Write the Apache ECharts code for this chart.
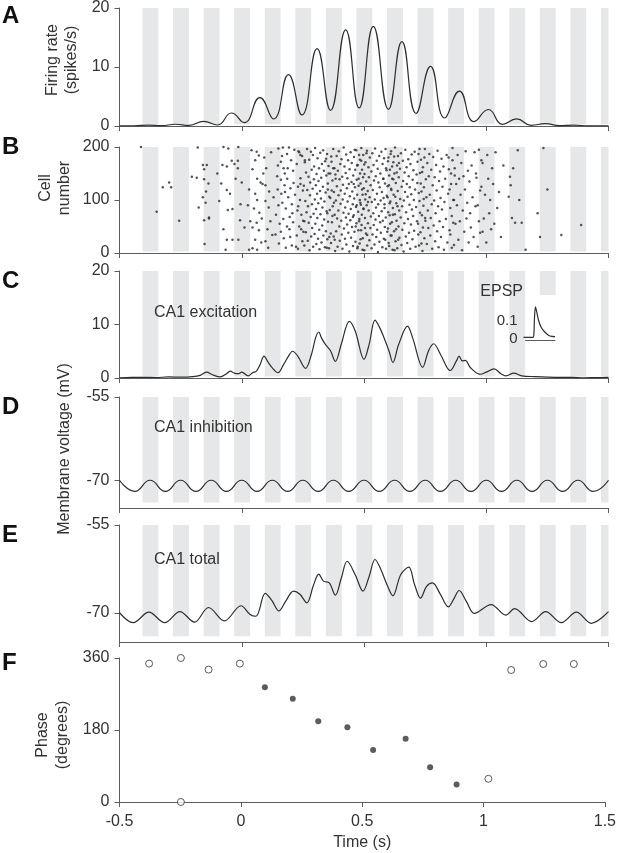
<!DOCTYPE html>
<html><head><meta charset="utf-8">
<script src="https://cdn.jsdelivr.net/npm/echarts@6/dist/echarts.min.js"></script>
<style>html,body{margin:0;padding:0;background:#fff}#c{width:619px;height:853px}</style>
</head><body><div id="c"></div>
<script>
// ---------- data ----------
const stripeStart = [-0.406,-0.281,-0.156,-0.031,0.094,0.219,0.344,0.469,0.594,0.719,0.844,0.969,1.094,1.219,1.344,1.469];
const stripeEnd   = [-0.341,-0.216,-0.091,0.034,0.159,0.284,0.409,0.534,0.659,0.784,0.909,1.034,1.159,1.284,1.409,1.5];

const firingRate = [[-0.5,0.02],[-0.44,0.04],[-0.38,0.15],[-0.33,0.05],[-0.271,0.3],[-0.215,0.1],[-0.156,0.8],[-0.099,0.17],[-0.042,2.2],[0.01,0.57],[0.074,4.8],[0.13,1.19],[0.191,8.7],[0.246,1.87],[0.308,13.1],[0.363,2.66],[0.425,16.3],[0.48,3.06],[0.538,16.9],[0.6,2.83],[0.655,14.3],[0.713,2.15],[0.772,10.1],[0.83,1.36],[0.89,5.9],[0.95,0.74],[1.009,2.8],[1.067,0.28],[1.124,1.2],[1.183,0.12],[1.242,0.4],[1.3,0.05],[1.356,0.15],[1.42,0.02],[1.5,0.02]];

const spikeMsCell = [
[-412,200],[-348,78],[-323,124],[-297,133],[-289,124],[-256,61],
[-204,144],[-184,142],[-180,199],[-176,86],[-159,166],[-143,166],[-154,158],[-154,139],[-146,116],[-159,105],[-148,95],[-154,62],[-134,67],[-152,17],
[-84,131],[-75,200],[-55,197],[-79,166],[-61,163],[-41,174],[-16,174],[-30,168],[-48,112],[-61,119],[-57,81],[-38,83],[-75,45],[-61,25],[-38,25],[-14,25],[-66,6],[-14,200],[-16,160],[0,133],[-7,62],[11,48],[-134,65],[-136,131],[-100,150],[-92,98],[-25,140],[-5,92],
[30,6],[40,194],[61,191],[55,175],[70,184],[44,158],[63,140],[77,133],[85,130],[55,112],[63,100],[50,84],[72,76],[61,57],[44,48],[70,43],[55,25],[80,20],[63,6],[44,9],[92,180],[100,160],[97,128],[112,116],[97,98],[110,86],[117,60],[105,45],[125,34],[97,22],[30,120],[25,90],[35,60],[88,150],[120,190],[130,105],[82,65],[108,10],
[150,197],[165,183],[171,160],[148,165],[160,172],[185,187],[193,199],[202,175],[176,150],[186,140],[160,138],[147,120],[175,128],[199,122],[210,155],[225,168],[232,192],[240,141],[250,118],[218,110],[190,105],[166,95],[150,90],[180,84],[205,92],[228,80],[244,72],[196,68],[170,64],[155,55],[185,50],[210,58],[235,50],[252,40],[225,33],[198,30],[172,28],[152,18],[180,10],[205,14],[230,8],[248,22],[140,72],[138,35],[162,112],[212,132],[238,100],[258,175],[256,60],[188,160],[168,199],[215,195],[145,145],[222,12],[195,45],[177,115],[207,75],[240,185],[160,40],[230,125],
[247,183],[251,61],[254,127],[256,14],[258,171],[260,98],[262,39],[263,152],[265,77],[267,196],[268,119],[270,23],[271,88],[273,144],[274,57],[276,176],[277,5],[279,109],[280,133],[282,68],[283,191],[284,31],[286,157],[287,92],[288,47],[290,121],[291,185],[292,12],[294,74],[295,139],[296,163],[298,36],[299,101],[300,198],[301,55],[303,128],[304,83],[305,17],[306,149],[308,112],[309,66],[310,179],[312,27],[313,94],[314,136],[316,160],[317,44],[318,7],[320,117],[321,189],[322,73],[324,103],[325,142],[326,20],[328,168],[329,52],[330,86],[332,125],[333,194],[334,33],[336,155],[337,63],[338,97],[340,11],[341,173],[343,114],[344,41],[346,146],[347,79],[349,187],[350,26],[352,131],[353,59],[355,164],[357,9],[358,106],[360,81],[362,150],[364,37],[366,182],[368,118],[371,70],[240,130],[243,45],[374,160],[377,95],[235,190],[380,25],[231,88],[384,140],
[362,104],[365,19],[367,172],[369,58],[371,137],[372,88],[374,196],[376,31],[377,115],[379,160],[380,72],[382,4],[383,148],[385,99],[386,41],[388,183],[389,126],[390,65],[392,12],[393,155],[395,80],[396,109],[397,192],[399,50],[400,139],[401,23],[403,168],[404,93],[405,118],[407,61],[408,177],[409,35],[411,144],[412,8],[413,101],[414,129],[416,76],[417,199],[418,46],[420,163],[421,112],[422,27],[423,86],[425,151],[426,67],[427,186],[428,16],[430,122],[431,54],[432,141],[433,97],[435,175],[436,38],[437,74],[438,130],[440,3],[441,158],[442,107],[444,62],[445,190],[446,83],[447,29],[449,134],[450,170],[451,49],[452,116],[454,92],[455,13],[456,146],[458,71],[459,181],[460,103],[461,40],[463,124],[464,157],[465,21],[467,87],[468,194],[469,56],[470,138],[472,110],[473,9],[474,166],[476,78],[477,43],[478,127],[480,185],[481,64],[483,100],[484,150],[486,26],[487,91],[489,174],[490,53],[492,120],[494,6],[496,143],[498,84],[355,150],[358,30],[501,167],[504,47],[350,75],[507,111],[510,188],[345,178],[513,34],[352,120],[516,96],[348,10],
[478,140],[480,60],[482,18],[483,176],[485,95],[486,131],[488,43],[489,198],[491,72],[492,157],[494,110],[495,28],[497,185],[498,83],[499,122],[501,5],[502,149],[504,66],[505,101],[506,171],[508,37],[509,135],[511,90],[512,193],[513,14],[515,117],[516,56],[518,162],[519,80],[520,143],[522,24],[523,105],[524,180],[526,47],[527,128],[528,69],[530,154],[531,9],[532,96],[534,188],[535,35],[536,119],[538,75],[539,166],[540,53],[541,137],[543,16],[544,101],[545,197],[547,63],[548,145],[549,86],[550,30],[552,174],[553,112],[554,44],[556,159],[557,2],[558,92],[559,133],[561,70],[562,183],[563,21],[564,124],[566,58],[567,150],[568,99],[569,38],[571,191],[572,79],[573,115],[575,11],[576,168],[577,61],[578,140],[580,104],[581,27],[582,179],[584,85],[585,49],[586,131],[588,196],[589,67],[590,8],[592,156],[593,108],[595,40],[596,126],[598,173],[599,77],[601,19],[603,146],[605,94],[607,55],[609,187],[611,121],[613,33],[615,163],[470,90],[472,165],[474,12],[618,72],[620,139],[466,50],[623,182],[625,5],[462,195],[628,106],[631,45],[458,130],[634,152],[637,88],[455,68],[640,25],[643,170],
[596,105],[598,46],[600,180],[602,128],[603,13],[605,71],[606,157],[608,97],[609,33],[611,192],[612,119],[614,58],[615,140],[617,6],[618,85],[620,171],[621,110],[623,41],[624,150],[626,73],[627,199],[629,22],[630,132],[632,94],[633,61],[635,165],[636,9],[638,117],[639,183],[641,50],[642,143],[644,80],[645,29],[647,159],[648,102],[650,67],[651,188],[653,15],[654,125],[656,88],[657,44],[659,174],[660,136],[662,3],[663,99],[665,56],[666,152],[668,115],[669,195],[671,31],[672,77],[674,162],[675,130],[677,19],[678,106],[680,64],[681,177],[683,145],[684,38],[686,91],[687,124],[689,8],[690,168],[692,54],[693,111],[695,186],[696,82],[698,26],[699,138],[701,70],[702,156],[704,100],[705,42],[707,191],[709,120],[711,12],[713,87],[715,148],[717,60],[719,172],[722,35],[724,113],[727,196],[729,76],[732,131],[735,18],[590,160],[587,25],[584,92],[738,153],[741,48],[744,102],[747,180],[580,140],[750,66],
[718,132],[721,55],[723,187],[725,14],[727,98],[729,151],[731,39],[733,176],[735,116],[737,71],[739,4],[741,162],[743,89],[745,124],[747,28],[749,196],[751,61],[753,139],[755,105],[757,17],[759,170],[761,80],[763,47],[765,145],[767,187],[769,110],[771,33],[773,66],[775,157],[777,92],[779,8],[781,128],[783,181],[785,52],[787,99],[789,143],[791,22],[793,75],[795,166],[797,118],[799,41],[801,193],[803,88],[805,11],[807,136],[809,60],[811,154],[813,104],[815,30],[817,178],[819,82],[821,125],[823,49],[825,163],[827,6],[829,96],[832,140],[835,64],[838,185],[841,20],[844,112],[847,158],[850,43],[853,85],[856,130],[859,10],[862,175],[865,57],[868,100],[871,146],
[846,180],[850,120],[853,35],[856,150],[859,70],[862,198],[865,100],[868,15],[871,160],[874,55],[877,130],[880,90],[883,185],[886,25],[889,140],[892,60],[895,110],[898,170],[901,5],[904,80],[907,145],[910,40],[913,120],[916,192],[919,65],[922,95],[925,155],[928,20],[931,135],[934,75],[937,48],[940,165],[944,105],[948,30],[952,190],[956,88],[960,142],[965,12],[970,60],[975,118],[980,175],[985,40],
[958,150],[965,90],[970,195],[975,38],[980,125],[985,170],[990,65],[995,110],[1000,20],[1004,185],[1008,140],[1012,75],[1016,100],[1020,45],[1024,160],[1028,130],[1033,55],[1038,190],[1045,85],[1052,115],[1060,30],[1070,165],
[1129,194],[1097,144],[1100,128],[1092,106],[1105,66],[1118,57],[1145,57],[1161,6],[1110,160],[1135,100],
[1210,75],[1234,198],[1250,120],[1220,30],[1307,34],[1388,53]
];

const excitation = [[-0.5,0.05],[-0.45,0.1],[-0.4,0.12],[-0.35,0.08],[-0.3,0.2],[-0.25,0.15],[-0.2,0.25],[-0.17,0.5],[-0.144,1.1],[-0.12,0.6],[-0.088,0.2],[-0.065,0.7],[-0.047,1.3],[-0.03,0.9],[-0.015,0.8],[0.0,1.1],[0.026,0.4],[0.045,1.0],[0.06,1.3],[0.075,2.5],[0.091,4.1],[0.107,3.0],[0.123,2.0],[0.148,1.0],[0.172,2.6],[0.19,4.0],[0.208,5.0],[0.229,4.1],[0.261,1.8],[0.285,4.4],[0.302,7.5],[0.315,8.6],[0.326,7.5],[0.342,6.3],[0.363,5.1],[0.383,3.1],[0.407,6.3],[0.44,10.6],[0.464,8.8],[0.5,3.5],[0.521,6.3],[0.545,10.8],[0.561,9.7],[0.577,8.1],[0.602,5.1],[0.618,2.9],[0.642,6.3],[0.678,9.7],[0.699,7.5],[0.74,2.0],[0.764,5.1],[0.785,6.4],[0.813,4.4],[0.853,1.4],[0.878,3.2],[0.889,4.1],[0.902,3.2],[0.915,3.3],[0.934,2.0],[0.975,0.7],[1.0,1.1],[1.032,1.7],[1.06,0.8],[1.08,0.4],[1.113,0.9],[1.145,0.4],[1.2,0.25],[1.25,0.15],[1.3,0.1],[1.35,0.12],[1.4,0.05],[1.45,0.08],[1.5,0.1]];

const inhibition = [[-0.5,-70],[-0.4375,-72],[-0.375,-70],[-0.3125,-72],[-0.25,-70],[-0.1875,-72],[-0.125,-70],[-0.0625,-72],[0,-70],[0.0625,-72],[0.125,-70],[0.1875,-72],[0.25,-70],[0.3125,-72],[0.375,-70],[0.4375,-72],[0.5,-70],[0.5625,-72],[0.625,-70],[0.6875,-72],[0.75,-70],[0.8125,-72],[0.875,-70],[0.9375,-72],[1,-70],[1.0625,-72],[1.125,-70],[1.1875,-72],[1.25,-70],[1.3125,-72],[1.375,-70],[1.4375,-72],[1.5,-70]];

const total = [[-0.5,-70.0],[-0.444,-71.7],[-0.38,-69.9],[-0.315,-71.7],[-0.253,-69.8],[-0.193,-71.6],[-0.136,-69.1],[-0.071,-71.4],[-0.003,-68.8],[0.034,-70.3],[0.058,-70.6],[0.096,-66.7],[0.123,-67.9],[0.152,-69.7],[0.18,-68.0],[0.212,-66.3],[0.237,-66.8],[0.266,-68.3],[0.294,-65.2],[0.315,-63.4],[0.334,-64.6],[0.358,-64.9],[0.383,-67.0],[0.407,-64.1],[0.431,-61.2],[0.464,-63.5],[0.496,-66.3],[0.521,-63.8],[0.545,-60.9],[0.569,-62.6],[0.594,-65.2],[0.618,-67.1],[0.65,-63.5],[0.683,-62.2],[0.707,-65.2],[0.731,-67.5],[0.756,-65.5],[0.78,-64.9],[0.813,-66.9],[0.845,-69.0],[0.869,-67.5],[0.889,-66.2],[0.918,-68.0],[0.951,-70.1],[1.02,-68.6],[1.08,-70.4],[1.116,-69.3],[1.186,-71.5],[1.243,-69.8],[1.307,-71.7],[1.369,-69.9],[1.429,-71.8],[1.5,-69.8]];

const epsp = [[0,0],[30,0],[33,0.02],[35,0.12],[38,0.18],[42,0.15],[48,0.1],[56,0.06],[66,0.035],[78,0.015],[90,0.006],[100,0.005]];
const epspTicks = [0, 0.1];

const phaseOpen = [[-0.378,346],[-0.247,360],[-0.247,0],[-0.133,331],[-0.004,346],[1.02,58],[1.114,330],[1.246,345],[1.372,345]];
const phaseFilled = [[0.099,287],[0.214,258],[0.319,202],[0.439,187],[0.545,130],[0.679,158],[0.78,87],[0.889,44]];

// ---------- styling ----------
const FONT = '"Liberation Sans", Arial, Helvetica, sans-serif';
const TXT = '#333', AX = '#5c5c5c', LINE = '#2e2e2e', STRIPE = '#e6e7e8';
const L = 119.5, R = 10.5;
const panels = [
  {top: 8,   height: 118, min: 0,   max: 20,  ticks: [0,10,20],   lo: 0.3},
  {top: 147, height: 106, min: 0,   max: 200, ticks: [0,100,200], lo: 3},
  {top: 271, height: 107, min: 0,   max: 20,  ticks: [0,10,20],   lo: 0.3},
  {top: 397, height: 111, min: -75, max: -55, ticks: [-70,-55],   lo: -74},
  {top: 525, height: 117, min: -75, max: -55, ticks: [-70,-55],   lo: -74},
  {top: 658, height: 144, min: 0,   max: 360, ticks: [0,180,360]}
];
const insetCut = {panel: 2, stripe: 13, lo: 15.5};
const inset = {left: 523.5, top: 296.7, width: 31.5, height: 43.3, yMin: -0.015, yMax: 0.24};

function stripes(pi) {
  const p = panels[pi];
  return stripeStart.map((s, k) => {
    const lo = (insetCut.panel === pi && insetCut.stripe === k) ? insetCut.lo : p.lo;
    return [{coord: [s, p.max]}, {coord: [stripeEnd[k], lo]}];
  });
}
function markArea(pi) {
  return {silent: true, itemStyle: {color: STRIPE}, label: {show: false}, data: stripes(pi)};
}

const grids = panels.map(p => ({left: L, right: R, top: p.top, height: p.height}));
grids.push({left: inset.left, top: inset.top, width: inset.width, height: inset.height});

const lineSt = {color: AX, width: 1};
const xAxes = panels.map((p, i) => ({
  type: 'value', gridIndex: i, min: -0.5, max: 1.5, interval: 0.5,
  axisLine: {show: true, onZero: false, lineStyle: lineSt},
  axisTick: {show: true, length: 5, lineStyle: lineSt},
  axisLabel: {show: i === 5, color: TXT, fontSize: 16, fontFamily: FONT, margin: 12},
  splitLine: {show: false},
  name: i === 5 ? 'Time (s)' : '', nameLocation: 'middle', nameGap: 33,
  nameTextStyle: {color: TXT, fontSize: 16, fontFamily: FONT}
}));
xAxes.push({type: 'value', gridIndex: 6, min: 0, max: 100,
  axisLine: {show: true, onZero: false, lineStyle: lineSt}, axisTick: {show: false},
  axisLabel: {show: false}, splitLine: {show: false}});
const yAxes = panels.map((p, i) => ({
  type: 'value', gridIndex: i, min: p.min, max: p.max,
  axisLine: {show: true, onZero: false, lineStyle: lineSt},
  axisTick: {show: true, length: 5, lineStyle: lineSt, customValues: p.ticks},
  axisLabel: {color: TXT, fontSize: 16, fontFamily: FONT, margin: 10, customValues: p.ticks},
  splitLine: {show: false}
}));
yAxes.push({type: 'value', gridIndex: 6, min: inset.yMin, max: inset.yMax,
  axisLine: {show: true, onZero: false, lineStyle: lineSt}, axisTick: {show: false},
  axisLabel: {show: false}, splitLine: {show: false}});

const lineSeries = (i, data, smooth) => ({
  type: 'line', xAxisIndex: i, yAxisIndex: i, data, smooth, showSymbol: false, symbol: 'none',
  lineStyle: {color: LINE, width: 1.2}, z: 3, markArea: markArea(i)
});

const series = [
  lineSeries(0, firingRate, 0.5),
  {type: 'scatter', xAxisIndex: 1, yAxisIndex: 1, data: spikeMsCell.map(d => [d[0] / 1000, d[1]]),
   symbolSize: 2.5, itemStyle: {color: '#2a2a2a'}, z: 3, markArea: markArea(1)},
  lineSeries(2, excitation, 0.35),
  lineSeries(3, inhibition, 0.5),
  lineSeries(4, total, 0.35),
  {type: 'scatter', xAxisIndex: 5, yAxisIndex: 5, data: phaseOpen, symbol: 'circle', symbolSize: 7,
   itemStyle: {color: '#fff', borderColor: '#333', borderWidth: 1}, z: 3},
  {type: 'scatter', xAxisIndex: 5, yAxisIndex: 5, data: phaseFilled, symbol: 'circle', symbolSize: 6,
   itemStyle: {color: '#333'}, z: 3},
  {type: 'line', xAxisIndex: 6, yAxisIndex: 6, data: epsp, smooth: 0.3, showSymbol: false, symbol: 'none',
   lineStyle: {color: LINE, width: 1.2}, z: 3}
];

function txt(x, y, text, opts) {
  opts = opts || {};
  return {type: 'text', x, y, rotation: opts.rot || 0, z: 10,
    style: {text, fill: opts.color || TXT, font: (opts.weight || 'normal') + ' ' + (opts.size || 16) + 'px ' + FONT,
      align: opts.align || 'left', verticalAlign: 'middle', textAlign: opts.align || 'left', textVerticalAlign: 'middle',
      lineHeight: opts.lh || 19}};
}
const R90 = Math.PI / 2;
// inset tick labels placed at the inset axis' own value positions
const insetY = v => inset.top + inset.height * (inset.yMax - v) / (inset.yMax - inset.yMin);
const graphics = [
  txt(2, 16, 'A', {size: 24, weight: 'bold', color: '#111'}),
  txt(2, 147, 'B', {size: 24, weight: 'bold', color: '#111'}),
  txt(2, 281, 'C', {size: 24, weight: 'bold', color: '#111'}),
  txt(2, 407, 'D', {size: 24, weight: 'bold', color: '#111'}),
  txt(2, 535, 'E', {size: 24, weight: 'bold', color: '#111'}),
  txt(2, 663, 'F', {size: 24, weight: 'bold', color: '#111'}),
  txt(62, 60, 'Firing rate\n(spikes/s)', {rot: R90, align: 'center'}),
  txt(55, 188, 'Cell\nnumber', {rot: R90, align: 'center'}),
  txt(65, 449, 'Membrane voltage (mV)', {rot: R90, align: 'center'}),
  txt(53, 735, 'Phase\n(degrees)', {rot: R90, align: 'center', lh: 20}),
  txt(154, 313, 'CA1 excitation'),
  txt(154, 428, 'CA1 inhibition'),
  txt(154, 560, 'CA1 total'),
  txt(523, 292, 'EPSP', {align: 'right'})
].concat(epspTicks.map(v => txt(inset.left - 6, insetY(v) + (v === 0 ? 1.5 : 0), String(v), {align: 'right', size: 15})));

const chart = echarts.init(document.getElementById('c'), null, {renderer: 'canvas'});
chart.setOption({
  animation: false, backgroundColor: '#fff',
  grid: grids, xAxis: xAxes, yAxis: yAxes, series, graphic: graphics
});
</script></body></html>
